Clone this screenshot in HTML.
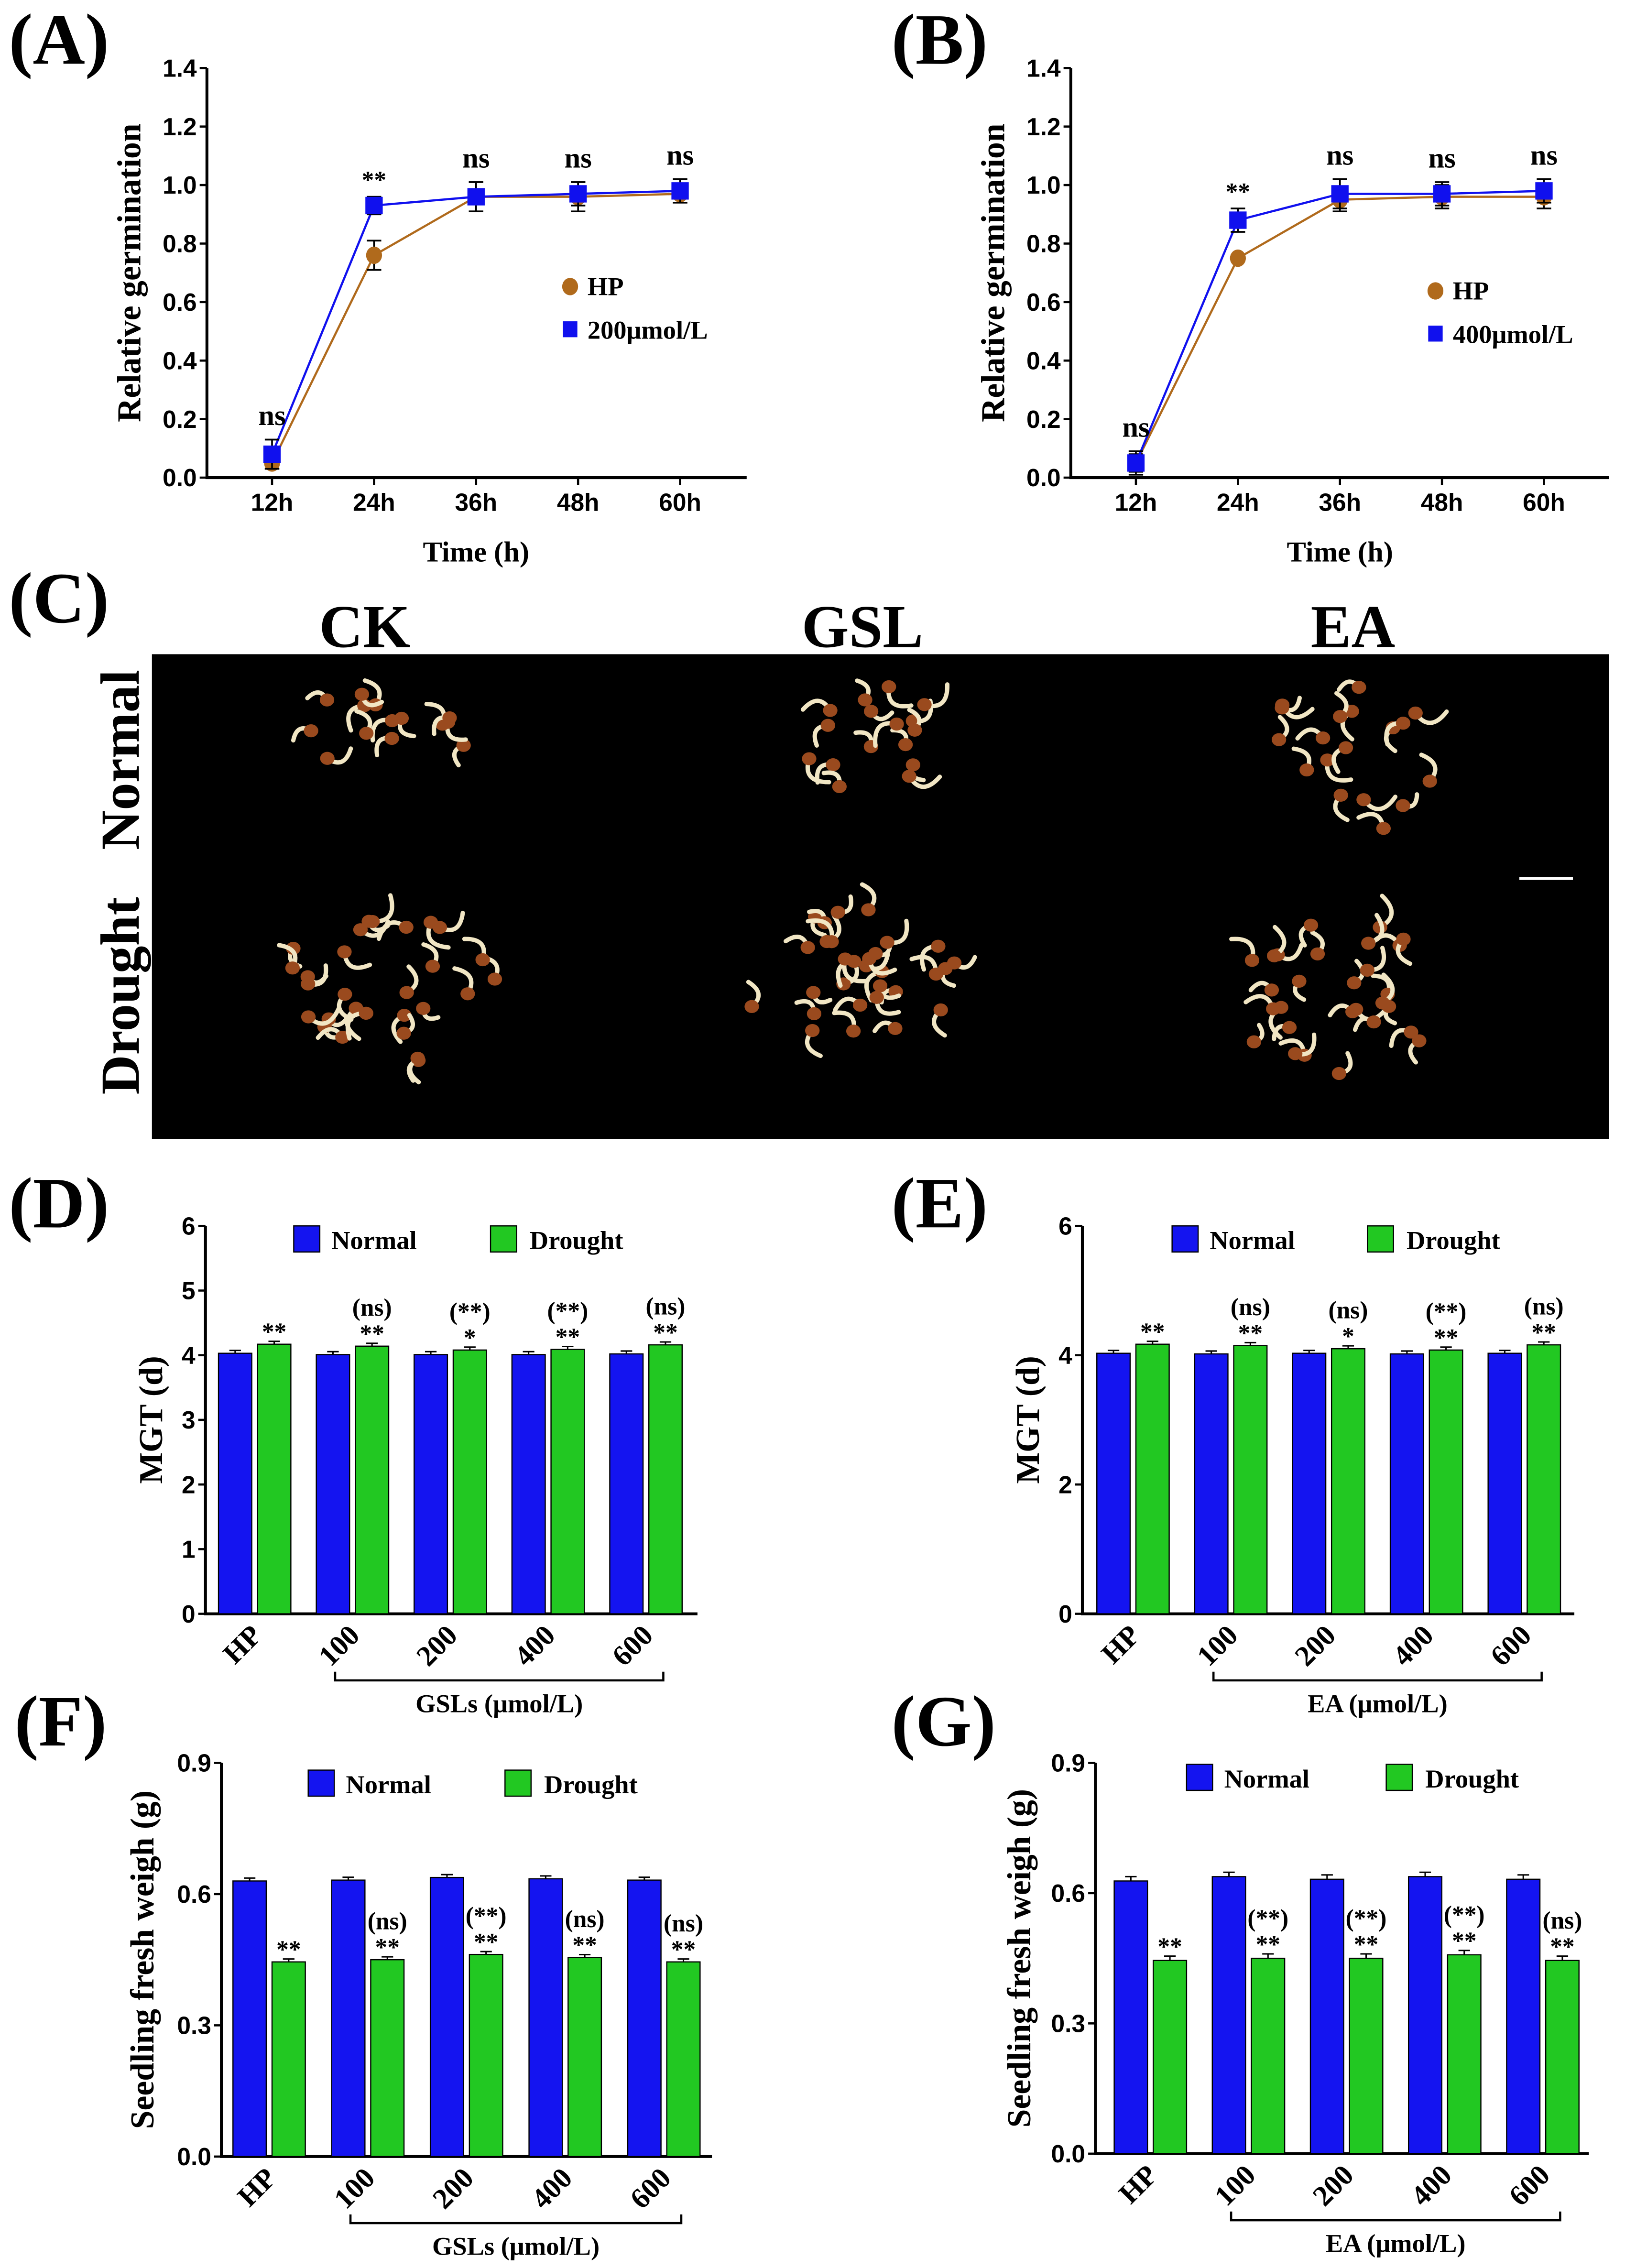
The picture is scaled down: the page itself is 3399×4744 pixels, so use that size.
<!DOCTYPE html>
<html><head><meta charset="utf-8">
<style>
html,body{margin:0;padding:0;background:#fff;}
svg{display:block;}
.pl{font-family:"Liberation Serif",serif;font-weight:bold;font-size:50px;}
.tk{font-family:"Liberation Sans Narrow","Liberation Sans",sans-serif;font-weight:bold;font-size:17px;}
.tt{font-family:"Liberation Serif",serif;font-weight:bold;font-size:20px;}
.yt{font-family:"Liberation Serif",serif;font-weight:bold;font-size:23px;}
.lg{font-family:"Liberation Serif",serif;font-weight:bold;font-size:18px;}
.sg{font-family:"Liberation Serif",serif;font-weight:bold;font-size:17px;}
.ph{font-family:"Liberation Serif",serif;font-weight:bold;font-size:42px;}
.pr{font-family:"Liberation Serif",serif;font-weight:bold;font-size:38px;}
</style></head>
<body>
<svg id="fig" width="3399" height="4744" viewBox="0 0 1123 1567" preserveAspectRatio="none" xmlns="http://www.w3.org/2000/svg">
<rect x="0" y="0" width="1123" height="1567" fill="#fff"/>
<text class="pl" x="6" y="44">(A)</text>
<text class="pl" x="616" y="44">(B)</text>
<text class="pl" x="6" y="430">(C)</text>
<text class="pl" x="6" y="848">(D)</text>
<text class="pl" x="616" y="848">(E)</text>
<text class="pl" x="10" y="1206">(F)</text>
<text class="pl" x="616" y="1206">(G)</text>
<g id="photo"></g>
</svg>
<script>
// ---- Line chart data ----
const timeCats = ["12h","24h","36h","48h","60h"];
const aHP = [0.05,0.76,0.96,0.96,0.97];
const aTrt = [0.08,0.93,0.96,0.97,0.98];
const aHPerr = [0.02,0.05,0.05,0.05,0.03];
const aTrtErr = [0.05,0.03,0.05,0.04,0.04];
const aSig = ["ns","**","ns","ns","ns"];
const bHP = [0.05,0.75,0.95,0.96,0.96];
const bTrt = [0.05,0.88,0.97,0.97,0.98];
const bHPerr = [0.03,0.01,0.04,0.04,0.04];
const bTrtErr = [0.04,0.04,0.05,0.04,0.04];
const bSig = ["ns","**","ns","ns","ns"];
const lineTicks = [0,0.2,0.4,0.6,0.8,1.0,1.2,1.4];
// ---- Bar chart data ----
const barCats = ["HP","100","200","400","600"];
const dNormal = [4.03,4.01,4.01,4.01,4.02];
const dDrought = [4.17,4.14,4.08,4.09,4.16];
const dSig = ["**","**","*","**","**"];
const dSig2 = ["","(ns)","(**)","(**)","(ns)"];
const eNormal = [4.03,4.02,4.03,4.02,4.03];
const eDrought = [4.17,4.15,4.10,4.08,4.16];
const eSig = ["**","**","*","**","**"];
const eSig2 = ["","(ns)","(ns)","(**)","(ns)"];
const fNormal = [0.630,0.632,0.638,0.635,0.632];
const fDrought = [0.445,0.450,0.462,0.455,0.445];
const fSig = ["**","**","**","**","**"];
const fSig2 = ["","(ns)","(**)","(ns)","(ns)"];
const gNormal = [0.628,0.638,0.632,0.638,0.632];
const gDrought = [0.445,0.450,0.450,0.458,0.445];
const gSig = ["**","**","**","**","**"];
const gSig2 = ["","(**)","(**)","(**)","(ns)"];
const mgtTicksD = [0,1,2,3,4,5,6];
const mgtTicksE = [0,2,4,6];
const fwTicks = [0,0.3,0.6,0.9];

const NS="http://www.w3.org/2000/svg";
const svg=document.getElementById('fig');
function mk(tag,attrs,parent,txt){const e=document.createElementNS(NS,tag);for(const k in attrs)e.setAttribute(k,attrs[k]);if(txt!==undefined)e.textContent=txt;(parent||svg).appendChild(e);return e;}

function lineChart(o){
  const g=mk('g',{});
  
  
  const y=v=>o.y0-(v/1.4)*(o.y0-o.y1);
  const x=i=>o.xc0+i*o.dx;
  const ax=mk('path',{d:`M${o.x0},${o.y1} L${o.x0},${o.y0} L${o.xEnd},${o.y0}`,stroke:'#000','stroke-width':2,fill:'none'},g);
  
  
  lineTicks.forEach(t=>{
    mk('line',{x1:o.x0-5,x2:o.x0,y1:y(t),y2:y(t),stroke:'#000','stroke-width':1.5},g);
    const l=mk('text',{class:'tk',x:o.x0-7,y:y(t)+6,'text-anchor':'end'},g,t.toFixed(1));
    
    
  });
  timeCats.forEach((c,i)=>{
    mk('line',{x1:x(i),x2:x(i),y1:o.y0,y2:o.y0+5,stroke:'#000','stroke-width':1.5},g);
    const l=mk('text',{class:'tk',x:x(i),y:o.y0+23,'text-anchor':'middle'},g,c);
    
    
  });
  const series=[[o.hp,o.hpErr,'#b06a1c','c'],[o.trt,o.trtErr,'#1010ee','s']];
  series.forEach(([vals,errs,col,shape])=>{
    const ln=mk('polyline',{points:vals.map((v,i)=>x(i)+','+y(v)).join(' '),stroke:col,'stroke-width':1.5,fill:'none'},g);
    
    
    vals.forEach((v,i)=>{
      mk('path',{d:`M${x(i)},${y(v+errs[i])} V${y(v-errs[i])} M${x(i)-5},${y(v+errs[i])} H${x(i)+5} M${x(i)-5},${y(v-errs[i])} H${x(i)+5}`,stroke:'#000','stroke-width':1.2,fill:'none'},g);
      let m;
      if(shape=='c') m=mk('ellipse',{cx:x(i),cy:y(v),rx:5.5,ry:6,fill:col},g);
      else m=mk('rect',{x:x(i)-6,y:y(v)-6,width:12,height:12,fill:col},g);
      
      
    });
  });
  o.sig.forEach((s,i)=>{
    const top=Math.max(o.trt[i]+o.trtErr[i],o.hp[i]+o.hpErr[i]);
    const yy = s=='**'? y(top)-6 : y(top)-10;
    const t=mk('text',{class:s=='ns'?'tt':'sg',x:x(i),y:yy,'text-anchor':'middle'},g,s);
    
    
  });
  mk('ellipse',{cx:o.lx,cy:o.ly,rx:5.5,ry:6,fill:'#b06a1c'},g);
  const l1=mk('text',{class:'lg',x:o.lx+12,y:o.ly+6},g,'HP');
  
  
  mk('rect',{x:o.lx-5,y:o.ly+24,width:10,height:11,fill:'#1010ee'},g);
  const l2=mk('text',{class:'lg',x:o.lx+12,y:o.ly+36},g,o.trtLabel);
  
  
  const yt=mk('text',{class:'yt',transform:`translate(${o.x0-46},${(o.y0+o.y1)/2}) rotate(-90)`,'text-anchor':'middle'},g,'Relative germination');
  
  
  const xt=mk('text',{class:'tt',x:(o.xc0+2*o.dx),y:o.y0+58,'text-anchor':'middle'},g,'Time (h)');
  
  
}
lineChart({name:'chart-a',x0:143,xEnd:516,y0:330,y1:47,xc0:188,dx:70.5,hp:aHP,trt:aTrt,hpErr:aHPerr,trtErr:aTrtErr,sig:aSig,lx:394,ly:198,trtLabel:'200μmol/L'});
lineChart({name:'chart-b',x0:740,xEnd:1112,y0:330,y1:47,xc0:785,dx:70.5,hp:bHP,trt:bTrt,hpErr:bHPerr,trtErr:bTrtErr,sig:bSig,lx:992,ly:201,trtLabel:'400μmol/L'});

function barChart(o){
  const g=mk('g',{});
  
  
  const y=v=>o.y0-(v/o.max)*(o.y0-o.y1);
  const ax=mk('path',{d:`M${o.x0},${o.y1} L${o.x0},${o.y0} L${o.xEnd},${o.y0}`,stroke:'#000','stroke-width':2,fill:'none'},g);
  
  
  o.ticks.forEach(t=>{
    mk('line',{x1:o.x0-5,x2:o.x0,y1:y(t),y2:y(t),stroke:'#000','stroke-width':1.5},g);
    const l=mk('text',{class:'tk',x:o.x0-7,y:y(t)+6,'text-anchor':'end'},g,o.dec?t.toFixed(1):String(t));
    
    
  });
  const bw=23;
  barCats.forEach((c,i)=>{
    const cx=o.xc0+i*o.dx;
    const nx=cx-13.5, dxx=cx+13.5;
    const b1=mk('rect',{x:nx-bw/2,y:y(o.normal[i]),width:bw,height:o.y0-y(o.normal[i]),fill:'#1414f0',stroke:'#000','stroke-width':0.8},g);
    
    
    const b2=mk('rect',{x:dxx-bw/2,y:y(o.drought[i]),width:bw,height:o.y0-y(o.drought[i]),fill:'#22c822',stroke:'#000','stroke-width':0.8},g);
    
    
    const e=o.err;
    mk('path',{d:`M${nx-4},${y(o.normal[i])-e} H${nx+4} M${nx},${y(o.normal[i])-e} V${y(o.normal[i])}`,stroke:'#000','stroke-width':1},g);
    mk('path',{d:`M${dxx-4},${y(o.drought[i])-e} H${dxx+4} M${dxx},${y(o.drought[i])-e} V${y(o.drought[i])}`,stroke:'#000','stroke-width':1},g);
    const s=mk('text',{class:'sg',x:dxx,y:y(o.drought[i])-e-1,'text-anchor':'middle'},g,o.sig[i]);
    
    
    if(o.sig2[i]){
      const s2=mk('text',{class:'sg',x:dxx,y:y(o.drought[i])-e-19,'text-anchor':'middle'},g,o.sig2[i]);
      
      
    }
    const xl=mk('text',{class:'tt',transform:`translate(${cx+6},${o.y0+16}) rotate(-45)`,'text-anchor':'end'},g,c);
    
    
  });
  const bx0=o.xc0+o.dx-12, bx1=o.xc0+4*o.dx+12, by=o.y0+46;
  mk('path',{d:`M${bx0},${by-6} V${by} H${bx1} V${by-6}`,stroke:'#000','stroke-width':1.5,fill:'none'},g);
  const gl=mk('text',{class:'lg',x:(bx0+bx1)/2,y:by+22,'text-anchor':'middle'},g,o.group);
  
  
  mk('rect',{x:o.lx,y:o.ly-9,width:18,height:18,fill:'#1414f0',stroke:'#000','stroke-width':0.8},g);
  const l1=mk('text',{class:'lg',x:o.lx+26,y:o.ly+7},g,'Normal');
  
  
  mk('rect',{x:o.lx2,y:o.ly-9,width:18,height:18,fill:'#22c822',stroke:'#000','stroke-width':0.8},g);
  const l2=mk('text',{class:'lg',x:o.lx2+27,y:o.ly+7},g,'Drought');
  
  
  const yt=mk('text',{class:'yt',transform:`translate(${o.ytx},${(o.y0+o.y1)/2}) rotate(-90)`,'text-anchor':'middle'},g,o.ytitle);
  
  
}
barChart({name:'chart-d',x0:142,xEnd:482,y0:1115,y1:847,max:6,ticks:mgtTicksD,dec:false,xc0:176,dx:67.6,normal:dNormal,drought:dDrought,sig:dSig,sig2:dSig2,err:2,group:'GSLs (μmol/L)',lx:203,lx2:339,ly:856,ytitle:'MGT (d)',ytx:112});
barChart({name:'chart-e',x0:748,xEnd:1088,y0:1115,y1:847,max:6,ticks:mgtTicksE,dec:false,xc0:783,dx:67.6,normal:eNormal,drought:eDrought,sig:eSig,sig2:eSig2,err:2,group:'EA (μmol/L)',lx:810,lx2:945,ly:856,ytitle:'MGT (d)',ytx:718});
barChart({name:'chart-f',x0:153,xEnd:492,y0:1490,y1:1218,max:0.9,ticks:fwTicks,dec:true,xc0:186,dx:68.2,normal:fNormal,drought:fDrought,sig:fSig,sig2:fSig2,err:2,group:'GSLs (μmol/L)',lx:213,lx2:349,ly:1232,ytitle:'Seedling fresh weigh (g)',ytx:106});
barChart({name:'chart-g',x0:757,xEnd:1098,y0:1488,y1:1218,max:0.9,ticks:fwTicks,dec:true,xc0:795,dx:67.8,normal:gNormal,drought:gDrought,sig:gSig,sig2:gSig2,err:3,group:'EA (μmol/L)',lx:820,lx2:958,ly:1228,ytitle:'Seedling fresh weigh (g)',ytx:712});

// ---- Photo panel (decorative) ----
const ph=document.getElementById('photo');
mk('rect',{x:105,y:452,width:1007,height:335,fill:'#000'},ph);
[['CK',252],['GSL',596],['EA',935]].forEach(([t,xx])=>{
  const e=mk('text',{class:'ph',x:xx,y:447,'text-anchor':'middle'},ph,t);
  
  
});
[['Normal',525],['Drought',688]].forEach(([t,yy])=>{
  const e=mk('text',{class:'pr',transform:`translate(96,${yy}) rotate(-90)`,'text-anchor':'middle'},ph,t);
  
  
});
mk('line',{x1:1050,x2:1087,y1:607,y2:607,stroke:'#fff','stroke-width':2},ph);
let seed=7;function rnd(){seed=(seed*16807)%2147483647;return (seed-1)/2147483646;}
const clusters=[[258,515,14,65,38],[600,515,16,55,45],[930,525,18,70,52],[268,688,28,85,55],[590,685,30,80,58],[925,688,28,75,58]];
clusters.forEach(([cx,cy,n,rx,ry])=>{
  for(let k=0;k<n;k++){
    const a=rnd()*6.283,r=Math.sqrt(rnd());
    const px=cx+Math.cos(a)*rx*r,py=cy+Math.sin(a)*ry*r;
    const ang=rnd()*6.283,L=12+rnd()*10;
    const qx=px+Math.cos(ang)*L,qy=py+Math.sin(ang)*L;
    mk('path',{d:`M${px},${py} Q${px+Math.cos(ang+1)*L*0.8},${py+Math.sin(ang+1)*L*0.8} ${qx},${qy}`,stroke:'#f1e6c4','stroke-width':3,fill:'none','stroke-linecap':'round'},ph);
    mk('ellipse',{cx:px,cy:py,rx:5,ry:4.5,fill:'#9a4a1e'},ph);
  }
});
</script>
</body></html>
